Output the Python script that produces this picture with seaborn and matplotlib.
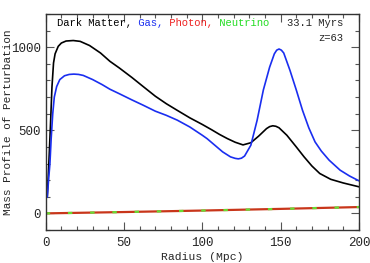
import numpy as np
import pandas as pd
import matplotlib
matplotlib.use("Agg")
import matplotlib.pyplot as plt
import seaborn as sns
from matplotlib.ticker import MultipleLocator

# ---- data ----
dm_r = [1, 2, 3, 4, 5, 6, 8, 10, 13, 17.6, 22, 28, 35, 41, 47, 55, 62, 70, 77, 84,
        92, 100, 106, 111, 116, 121, 126, 131, 136, 141, 143, 145, 147, 149, 154,
        160, 165, 170, 175, 182, 190, 200]
dm_v = [100, 300, 520, 760, 905, 960, 1005, 1025, 1037, 1040, 1035, 1010, 965, 915,
        875, 818, 765, 705, 660, 620, 575, 535, 503, 475, 450, 428, 412, 425, 465,
        510, 522, 527, 524, 515, 470, 400, 340, 285, 240, 205, 183, 160]

gas_r = [1, 2, 2.7, 3.5, 4.5, 5.5, 7, 9, 12, 15, 18, 21, 24, 30, 36, 41, 47, 55, 62,
         70, 77, 84, 92, 100, 103, 108, 113, 118, 121, 123, 125, 127, 131, 135, 139,
         143, 146, 147.5, 149, 150.5, 152, 156, 160, 164, 168, 172, 176, 181, 188,
         194, 200]
gas_v = [97, 220, 300, 450, 600, 700, 763, 805, 828, 836, 838, 836, 830, 805, 775,
         747, 720, 683, 652, 615, 590, 561, 520, 470, 450, 410, 370, 340, 331, 328,
         332, 345, 410, 560, 743, 880, 960, 982, 989, 982, 965, 860, 743, 620, 515,
         430, 375, 320, 260, 225, 196]

rad_r = [0, 50, 100, 150, 200]
photon_v = [0, 8, 17, 27, 38]
neutrino_v = [0, 8, 17, 27, 38]

x_ticks = [0, 50, 100, 150, 200]
y_ticks = [0, 500, 1000]

sns.set_style("ticks")
plt.rcParams['font.family'] = ['Liberation Mono', 'DejaVu Sans']

fig = plt.figure(figsize=(3.70, 2.63), dpi=100)
ax = fig.add_axes([0.1235, 0.1255, 0.970 - 0.1235, 0.947 - 0.1255])

sns.lineplot(x=dm_r, y=dm_v, ax=ax, color="black", lw=1.2, sort=False)
sns.lineplot(x=rad_r, y=photon_v, ax=ax, color="#c8361a", lw=1.6, sort=False)
sns.lineplot(x=rad_r, y=neutrino_v, ax=ax, color="#66dd33", lw=1.6, sort=False,
             dashes=False)
ax.lines[-1].set_dashes([2, 8])
sns.lineplot(x=gas_r, y=gas_v, ax=ax, color="#1a2ef0", lw=1.2, sort=False)

ax.set_xlim(0, 200)
ax.set_ylim(-100, 1200)
ax.set_xticks(x_ticks)
ax.set_yticks(y_ticks)
ax.xaxis.set_minor_locator(MultipleLocator(10))
ax.yaxis.set_minor_locator(MultipleLocator(100))
ax.tick_params(which='both', direction='in', top=True, right=True, color='#555555',
               labelsize=9, width=0.8)
ax.tick_params(which='major', length=6)
ax.tick_params(which='minor', length=3)
ax.tick_params(axis='x', pad=5)
for s in ax.spines.values():
    s.set_linewidth(1.0)
    s.set_color('#333333')

ax.set_xlabel("Radius (Mpc)", fontsize=8.2, labelpad=2)
ax.set_ylabel("Mass Profile of Perturbation", fontsize=8.0)
ax.yaxis.set_label_coords(-0.105, 0.5)

fs = 7.6
t1 = ax.text(0.036, 0.944, "Dark Matter,", transform=ax.transAxes, fontsize=fs,
             color="black", va="baseline")
t2 = ax.annotate(" Gas,", xycoords=t1, xy=(1, 0), va="bottom", fontsize=fs,
                 color="#1a2ef0")
t3 = ax.annotate(" Photon,", xycoords=t2, xy=(1, 0), va="bottom", fontsize=fs,
                 color="#ee2222")
t4 = ax.annotate(" Neutrino", xycoords=t3, xy=(1, 0), va="bottom", fontsize=fs,
                 color="#22dd22")
ax.text(0.949, 0.944, "33.1 Myrs", transform=ax.transAxes, fontsize=fs,
        ha="right", va="baseline")
ax.text(0.949, 0.874, "z=63", transform=ax.transAxes, fontsize=fs,
        ha="right", va="baseline")

fig.savefig("out.png", dpi=100)
